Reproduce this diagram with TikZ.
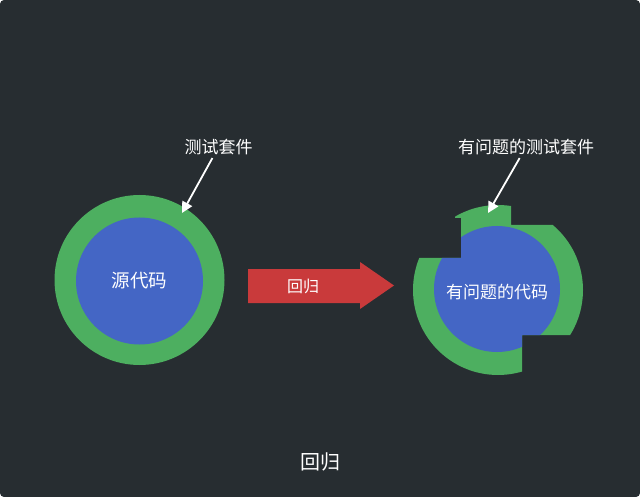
\documentclass[tikz,border=0pt]{standalone}
\usepackage{fontspec}
\setmainfont{Noto Sans CJK SC}
\usetikzlibrary{arrows.meta}
\definecolor{bgc}{HTML}{272D31}
\definecolor{ringc}{HTML}{4DAF60}
\definecolor{corec}{HTML}{4466C5}
\definecolor{arrc}{HTML}{C93A3B}
\tikzset{
  lbl/.style={text=white, font=\fontsize{17}{19}\selectfont, inner sep=3pt},
  pointer/.style={draw=white, line width=1.8pt, -{Triangle[length=11pt,width=11pt]}},
  ringdisc/.style={circle, fill=ringc, inner sep=0pt, minimum size=170pt},
  coredisc/.style={circle, fill=corec, inner sep=0pt, minimum size=127pt, text=white, font=\fontsize{18.5}{20}\selectfont},
}
\begin{document}
\begin{tikzpicture}[x=1pt,y=-1pt]
\useasboundingbox (0,0) rectangle (640,497);
\fill[bgc, rounded corners=4pt] (0,0) rectangle (640,497);

% left: source code with test suite
\node[ringdisc] (suite) at (139.5,280) {};
\node[coredisc] (src) at (139.5,281) {源代码};
\node[lbl] (lbl1) at (218.5,147) {测试套件};
\coordinate (t1) at (182,213);
\draw[pointer] (lbl1) -- (t1);

% big red arrow
\fill[arrc] (248,269) -- (360,269) -- (360,262) -- (394,285.5) -- (360,309) -- (360,303) -- (248,303) -- cycle;
\node[lbl, font=\fontsize{16}{18}\selectfont] (reg) at (303,286) {回归};

% right: broken code with broken suite
\begin{scope}
\clip (400,258) -- (461,258) -- (461,218) -- (455,218) -- (455,190) -- (511,190) -- (511,225) -- (600,225) -- (600,335) -- (522,335) -- (522,390) -- (400,390) -- cycle;
\node[ringdisc] (bsuite) at (498,290) {};
\node[coredisc, minimum size=126pt] (bcore) at (497,289) {};
\end{scope}
\node[lbl] (bsrc) at (497,292) {有问题的代码};
\node[lbl] (lbl2) at (526,147) {有问题的测试套件};
\coordinate (t2) at (488,213);
\draw[pointer] (lbl2) -- (t2);

% caption
\node[lbl, font=\fontsize{20}{22}\selectfont] (cap) at (320,462) {回归};
\end{tikzpicture}
\end{document}
